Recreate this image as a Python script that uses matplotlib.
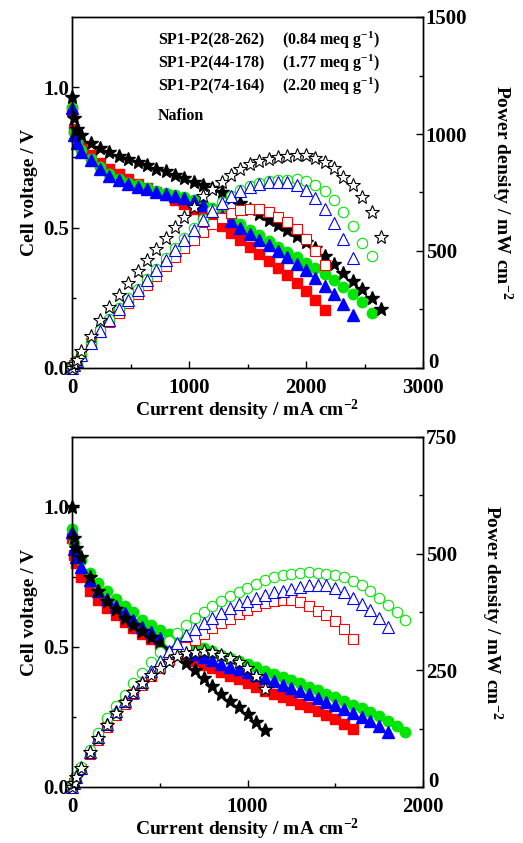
import numpy as np
import matplotlib
matplotlib.use('Agg')
import matplotlib.pyplot as plt
import matplotlib.ticker as ticker

plt.rcParams['font.family'] = ['Liberation Serif', 'DejaVu Serif']
plt.rcParams['font.weight'] = 'bold'
plt.rcParams['mathtext.fontset'] = 'custom'
plt.rcParams['mathtext.rm'] = 'Liberation Serif:bold'
plt.rcParams['mathtext.bf'] = 'Liberation Serif:bold'
plt.rcParams['mathtext.it'] = 'Liberation Serif:bold:italic'
plt.rcParams['mathtext.default'] = 'bf'

# ---- top panel (current grid in mA cm-2) ----
top_current = [0, 20, 40, 80, 160, 240, 320, 400, 480, 560, 640, 720, 800, 880,
               960, 1040, 1120, 1200, 1280, 1360, 1440, 1520, 1600, 1680, 1760,
               1840, 1920, 2000, 2080, 2160, 2240, 2320, 2400, 2480, 2560, 2640]

top_v_28 = [0.92, 0.85, 0.82, 0.79, 0.76, 0.73, 0.71, 0.69, 0.672, 0.656, 0.642,
            0.628, 0.615, 0.60, 0.585, 0.568, 0.55, 0.527, 0.505, 0.482, 0.455,
            0.43, 0.405, 0.38, 0.355, 0.33, 0.303, 0.275, 0.243, 0.205]
top_p_28 = [0, 14, 28, 55, 106, 152, 195, 237, 277, 315, 355, 395, 435, 475, 513,
            548, 582, 615, 642, 662, 674, 680, 678, 666, 647, 624, 594, 553, 500, 440]

top_v_44 = [0.925, 0.84, 0.81, 0.775, 0.745, 0.715, 0.69, 0.673, 0.66, 0.65, 0.641,
            0.632, 0.624, 0.616, 0.608, 0.598, 0.585, 0.569, 0.55, 0.532, 0.512,
            0.492, 0.472, 0.452, 0.432, 0.413, 0.395, 0.375, 0.356, 0.336, 0.313,
            0.29, 0.265, 0.235, 0.195]
top_p_44 = [0, 14, 28, 57, 110, 161, 209, 255, 298, 339, 382, 425, 469, 512, 555,
            597, 638, 676, 709, 737, 760, 777, 790, 798, 802, 805, 806, 798, 782,
            756, 720, 668, 605, 535, 478]

top_v_74 = [0.925, 0.83, 0.80, 0.77, 0.74, 0.71, 0.685, 0.668, 0.655, 0.645, 0.636,
            0.628, 0.62, 0.612, 0.605, 0.595, 0.58, 0.562, 0.543, 0.523, 0.50,
            0.478, 0.457, 0.437, 0.418, 0.395, 0.372, 0.348, 0.322, 0.293, 0.262,
            0.228, 0.19]
top_p_74 = [0, 14, 28, 56, 108, 158, 205, 250, 292, 332, 375, 418, 462, 505, 548,
            590, 632, 672, 706, 735, 757, 772, 785, 793, 796, 793, 783, 760, 725,
            678, 618, 552, 470]

top_v_naf = [0.965, 0.89, 0.85, 0.83, 0.80, 0.785, 0.77, 0.755, 0.745, 0.733, 0.722,
             0.71, 0.70, 0.688, 0.675, 0.663, 0.651, 0.64, 0.625, 0.607, 0.587,
             0.567, 0.548, 0.528, 0.508, 0.49, 0.47, 0.45, 0.428, 0.40, 0.37, 0.34,
             0.31, 0.28, 0.248, 0.21]
top_p_naf = [0, 18, 36, 71, 138, 204, 260, 313, 363, 414, 462, 508, 556, 601, 645,
             690, 733, 765, 795, 823, 852, 870, 884, 895, 903, 908, 910, 909, 896,
             880, 853, 818, 780, 730, 668, 560]

# ---- bottom panel ----
bot_current = [0, 10, 25, 50, 100, 150, 200, 250, 300, 350, 400, 450, 500, 550,
               600, 650, 700, 750, 800, 850, 900, 950, 1000, 1050, 1100, 1150,
               1200, 1250, 1300, 1350, 1400, 1450, 1500, 1550, 1600, 1650, 1700,
               1750, 1800, 1850, 1900]

bot_v_28 = [0.89, 0.83, 0.80, 0.75, 0.70, 0.668, 0.64, 0.613, 0.59, 0.567, 0.546,
            0.528, 0.51, 0.494, 0.478, 0.463, 0.45, 0.437, 0.425, 0.412, 0.398,
            0.384, 0.37, 0.357, 0.344, 0.333, 0.322, 0.31, 0.298, 0.285, 0.272,
            0.258, 0.243, 0.226, 0.207]
bot_p_28 = [0, 8, 20, 38, 71, 101, 129, 155, 178, 199, 219, 238, 256, 272, 287,
            301, 315, 328, 340, 351, 361, 370, 379, 387, 394, 399, 401, 401, 396,
            388, 378, 368, 355, 338, 318]

bot_v_44 = [0.92, 0.87, 0.84, 0.81, 0.765, 0.73, 0.70, 0.672, 0.648, 0.625, 0.598,
            0.58, 0.562, 0.545, 0.532, 0.52, 0.507, 0.495, 0.484, 0.473, 0.462,
            0.45, 0.438, 0.427, 0.415, 0.404, 0.393, 0.381, 0.37, 0.358, 0.345,
            0.333, 0.32, 0.307, 0.294, 0.281, 0.267, 0.252, 0.236, 0.218, 0.198]
bot_p_44 = [0, 9, 22, 42, 80, 116, 147, 173, 198, 222, 245, 268, 290, 312, 331,
            348, 363, 376, 388, 399, 409, 418, 427, 436, 443, 449, 454, 457, 459,
            460, 459, 457, 454, 449, 442, 432, 419, 404, 389, 374, 358]

bot_v_74 = [0.91, 0.85, 0.82, 0.785, 0.738, 0.70, 0.672, 0.645, 0.62, 0.595, 0.572,
            0.552, 0.532, 0.515, 0.50, 0.487, 0.475, 0.463, 0.452, 0.441, 0.43,
            0.42, 0.41, 0.399, 0.388, 0.377, 0.366, 0.355, 0.343, 0.331, 0.318,
            0.305, 0.292, 0.279, 0.265, 0.25, 0.234, 0.217, 0.197]
bot_p_74 = [0, 9, 21, 40, 75, 107, 136, 163, 185, 204, 225, 248, 270, 291, 309,
            325, 339, 352, 363, 373, 383, 392, 399, 406, 412, 417, 421, 425, 429,
            432, 433, 432, 426, 418, 406, 393, 380, 363, 342]

bot_v_naf = [1.0, 0.89, 0.855, 0.82, 0.75, 0.70, 0.665, 0.635, 0.605, 0.58, 0.558,
             0.537, 0.515, 0.493, 0.468, 0.443, 0.418, 0.39, 0.362, 0.333, 0.308,
             0.284, 0.26, 0.232, 0.202]
bot_p_naf = [0, 9, 21, 41, 75, 105, 133, 159, 182, 203, 223, 241, 256, 270, 280,
             287, 290, 291, 289, 283, 276, 267, 256, 237, 210]

legend_names = ['SP1-P2(28-262)', 'SP1-P2(44-178)', 'SP1-P2(74-164)', 'Nafion']
legend_iec = [r'(0.84 meq g$^{-1}$)', r'(1.77 meq g$^{-1}$)', r'(2.20 meq g$^{-1}$)', '']

colors = ['#ff0000', '#00e600', '#0000ff', '#000000']
markers = ['s', 'o', '^', '*']
msizes = [7, 7.5, 8, 10]


def right_fmt(val, pos):
    # the "0" of the power axis is drawn separately, a little higher
    return '' if val == 0 else f'{val:.0f}'


def style_axes(ax, ax2, xmax, xmaj, pmax, pmaj):
    ax.set_xlim(0, xmax)
    ax.set_ylim(0, 1.25)
    ax2.set_ylim(0, pmax)
    ax.xaxis.set_major_locator(ticker.MultipleLocator(xmaj))
    ax.xaxis.set_minor_locator(ticker.MultipleLocator(500))
    ax.yaxis.set_major_locator(ticker.FixedLocator([0.0, 0.5, 1.0]))
    ax.yaxis.set_minor_locator(ticker.FixedLocator([0.25, 0.75]))
    ax.yaxis.set_major_formatter(ticker.FormatStrFormatter('%.1f'))
    ax2.yaxis.set_major_locator(ticker.MultipleLocator(pmaj))
    ax2.yaxis.set_minor_locator(ticker.MultipleLocator(pmaj / 2))
    ax2.yaxis.set_major_formatter(ticker.FuncFormatter(right_fmt))
    for a in (ax, ax2):
        a.tick_params(which='major', direction='in', length=5, width=1, labelsize=15, pad=2)
        a.tick_params(which='minor', direction='in', length=3, width=1)
        for s in a.spines.values():
            s.set_linewidth(1)
    ax.tick_params(axis='x', top=False, pad=7)
    ax.tick_params(axis='y', right=False)
    ax.set_ylabel('Cell voltage / V', fontsize=14, fontweight='bold', labelpad=4)
    ax2.set_ylabel(r'Power density / mW cm$^{-2}$', fontsize=14, fontweight='bold',
                   rotation=270, labelpad=34)
    ax.set_xlabel(r'Current density / mA cm$^{-2}$', fontsize=14, fontweight='bold', labelpad=0)
    ax2.annotate('0', xy=(1, 0), xycoords='axes fraction', xytext=(4, 0),
                 textcoords='offset points', ha='left', va='baseline',
                 fontsize=15, fontweight='bold')


def draw_panel(ax, ax2, current, volts, powers):
    for v, c, m, ms in zip(volts, colors, markers, msizes):
        ax.plot(current[:len(v)], v, linestyle='none', marker=m, markersize=ms,
                color=c, markeredgecolor=c, clip_on=False)
    for p, c, m, ms in zip(powers, colors, markers, msizes):
        ax2.plot(current[:len(p)], p, linestyle='none', marker=m, markersize=ms,
                 markerfacecolor='white', markeredgecolor=c, markeredgewidth=0.8,
                 clip_on=False)


fig = plt.figure(figsize=(5.23, 8.43), dpi=100)
ax_top = fig.add_axes([72 / 523, 1 - 368 / 843, 351 / 523, 351 / 843])
ax_top2 = ax_top.twinx()
ax_bot = fig.add_axes([72 / 523, 1 - 787 / 843, 351 / 523, 350 / 843])
ax_bot2 = ax_bot.twinx()

draw_panel(ax_top, ax_top2, np.array(top_current),
           [top_v_28, top_v_44, top_v_74, top_v_naf],
           [top_p_28, top_p_44, top_p_74, top_p_naf])
draw_panel(ax_bot, ax_bot2, np.array(bot_current),
           [bot_v_28, bot_v_44, bot_v_74, bot_v_naf],
           [bot_p_28, bot_p_44, bot_p_74, bot_p_naf])

style_axes(ax_top, ax_top2, 3000, 1000, 1500, 500)
style_axes(ax_bot, ax_bot2, 2000, 1000, 750, 250)

# text-only legend in the top panel
rows_y = [0.934, 0.869, 0.801, 0.718]
for name, iec, y in zip(legend_names, legend_iec, rows_y):
    ax_top2.text(0.245, y, name, transform=ax_top2.transAxes, fontsize=11.5,
                 fontweight='bold', va='center', ha='left')
    if iec:
        ax_top2.text(0.598, y, iec, transform=ax_top2.transAxes, fontsize=11.5,
                     fontweight='bold', va='center', ha='left')

fig.savefig('out.png', dpi=100)
